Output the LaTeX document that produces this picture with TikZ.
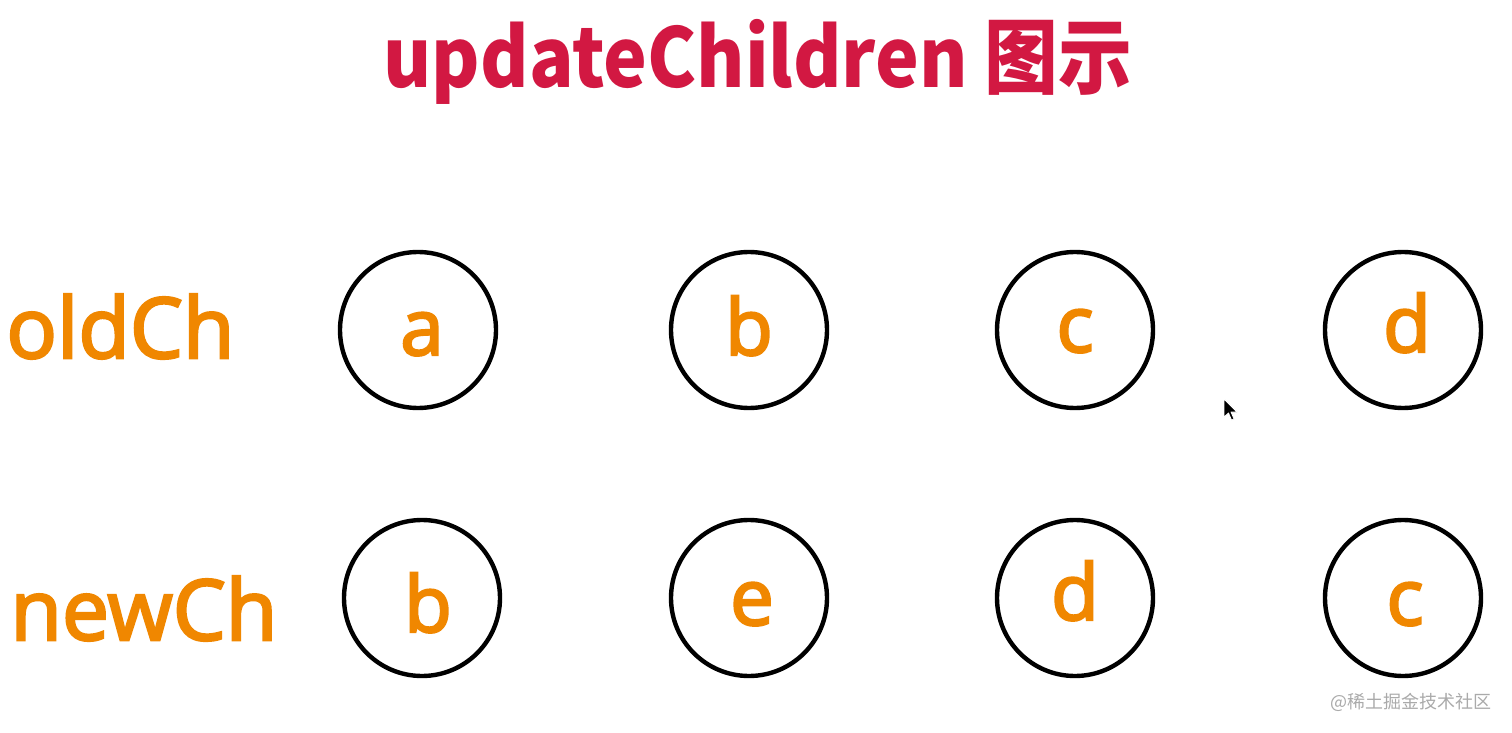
\documentclass[tikz,border=0pt]{standalone}
\usepackage{fontspec}
\usepackage{graphicx}
\setmainfont{Open Sans}
\newfontfamily\semi{Open Sans}[FakeBold=3]
\newfontfamily\cjk{Noto Sans CJK SC}
\definecolor{titlered}{RGB}{210,24,66}
\definecolor{lorange}{RGB}{240,135,0}
\definecolor{wmgray}{RGB}{170,170,170}
\tikzset{
  ring/.style={circle,draw=black,line width=2.2pt,minimum size=78pt,inner sep=0pt},
  letter/.style={anchor=base,inner sep=0pt,text=lorange,font=\semi\fontsize{39}{41}\selectfont},
  rowlabel/.style={anchor=base west,inner sep=0pt,text=lorange,font=\semi\fontsize{42}{44}\selectfont},
  titletext/.style={anchor=base,inner sep=0pt,text=titlered,font=\cjk\bfseries\fontsize{41}{44}\selectfont},
}
\begin{document}
\begin{tikzpicture}[x=0.5pt,y=-0.5pt]
\useasboundingbox[fill=white] (0,0) rectangle (1512,733);
\node[titletext] (title) at (758,88) {\scalebox{0.9}[1]{updateChildren 图示}};
\node[rowlabel] (oldlbl) at (6,358) {oldCh};
\node[rowlabel] (newlbl) at (10,640) {newCh};
% old row
\node[ring] (o1) at (418,330) {};
\node[ring] (o2) at (749,330) {};
\node[ring] (o3) at (1075,330) {};
\node[ring] (o4) at (1403,330) {};
\node[letter] (ta1) at (422,355) {a};
\node[letter] (ta2) at (749,355) {b};
\node[letter] (ta3) at (1075,352) {c};
\node[letter] (ta4) at (1407,352) {d};
% new row
\node[ring] (n1) at (422,598) {};
\node[ring] (n2) at (749,598) {};
\node[ring] (n3) at (1075,598) {};
\node[ring] (n4) at (1403,598) {};
\node[letter] (tb1) at (428,632) {b};
\node[letter] (tb2) at (752,625) {e};
\node[letter] (tb3) at (1075,620) {d};
\node[letter] (tb4) at (1405,625) {c};
% mouse cursor
\draw[fill=black,draw=white,line width=0.4pt,line join=round]
  (1224,399) -- (1224,417) -- (1228.5,413) -- (1231.5,420) -- (1234,419) -- (1231,412) -- (1237,412) -- cycle;
% watermark
\node[anchor=west,inner sep=0pt,text=wmgray,font=\cjk\fontsize{9}{10}\selectfont] (wm) at (1330,702) {@稀土掘金技术社区};
\end{tikzpicture}
\end{document}
